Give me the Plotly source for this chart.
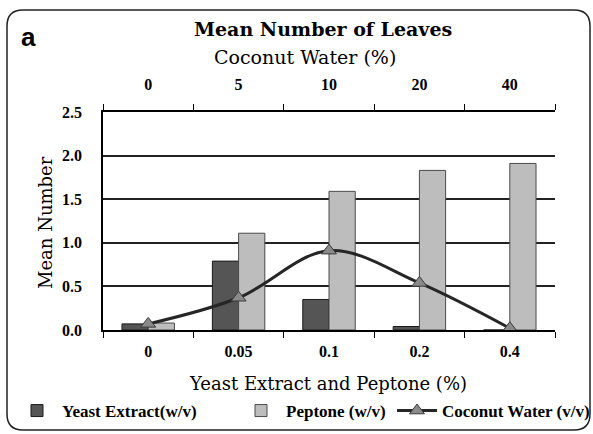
import plotly.graph_objects as go

categories = ["0", "0.05", "0.1", "0.2", "0.4"]
coconut_labels = ["0", "5", "10", "20", "40"]
yeast_extract = [0.07, 0.79, 0.35, 0.04, 0.0]
peptone = [0.08, 1.11, 1.59, 1.83, 1.91]
coconut_water = [0.07, 0.37, 0.91, 0.54, 0.02]
y_ticks = [0, 0.5, 1.0, 1.5, 2.0, 2.5]

SERIF = "Liberation Serif, Times New Roman, serif"
WIDE = "DejaVu Serif, serif"

fig = go.Figure()
fig.add_trace(go.Bar(
    x=categories, y=yeast_extract, name="<b>Yeast Extract(w/v)</b>", legend="legend",
    marker=dict(color="#555555", line=dict(color="#1a1a1a", width=1)),
))
fig.add_trace(go.Bar(
    x=categories, y=peptone, name="<b>Peptone (w/v)</b>", legend="legend2",
    marker=dict(color="#bdbdbd", line=dict(color="#4a4a4a", width=1)),
))
fig.add_trace(go.Scatter(
    x=coconut_labels, y=coconut_water, name="<b>Coconut Water (v/v)</b>", legend="legend3",
    xaxis="x2", mode="lines+markers",
    line=dict(color="#262626", width=3, shape="spline", smoothing=1.0),
    marker=dict(symbol="triangle-up", size=13, color="#8a8a8a",
                line=dict(color="#3a3a3a", width=1)),
))

# rounded border around the whole chart (paper coords)
L, R, T, B = 103, 38, 112, 104
W, H = 593, 434
pw, ph = W - L - R, H - T - B
def px(x): return (x - L) / pw
def py(y): return (H - B - y) / ph
r = 16
x0, x1, y0, y1 = 7, 590, 10, 430
path = (f"M {px(x0+r)},{py(y0)} L {px(x1-r)},{py(y0)} "
        f"Q {px(x1)},{py(y0)} {px(x1)},{py(y0+r)} "
        f"L {px(x1)},{py(y1-r)} Q {px(x1)},{py(y1)} {px(x1-r)},{py(y1)} "
        f"L {px(x0+r)},{py(y1)} Q {px(x0)},{py(y1)} {px(x0)},{py(y1-r)} "
        f"L {px(x0)},{py(y0+r)} Q {px(x0)},{py(y0)} {px(x0+r)},{py(y0)} Z")

def leg(xpix):
    return dict(orientation="h", xref="container", yref="container",
                x=xpix / W, xanchor="left", y=(H - 411) / H, yanchor="middle",
                font=dict(size=17, family=SERIF), bgcolor="rgba(0,0,0,0)",
                itemwidth=40, borderwidth=0)

fig.update_layout(
    width=W, height=H,
    margin=dict(l=L, r=R, t=T, b=B, autoexpand=False),
    paper_bgcolor="white", plot_bgcolor="white",
    barmode="group", bargap=0.42, bargroupgap=0.0,
    font=dict(family=SERIF, color="black"),
    showlegend=True,
    xaxis=dict(
        type="category", categoryorder="array", categoryarray=categories,
        range=[-0.5, 4.5], tickson="boundaries", ticks="outside", ticklen=6,
        tickcolor="black", showline=True, linecolor="black", linewidth=1.5,
        tickfont=dict(size=16, family=SERIF), ticklabelstandoff=6,
        tickprefix="<b>", ticksuffix="</b>", automargin=False,
        showgrid=False,
    ),
    xaxis2=dict(
        type="category", categoryorder="array", categoryarray=coconut_labels,
        range=[-0.5, 4.5], overlaying="x", side="top",
        tickson="boundaries", ticks="outside", ticklen=6, tickcolor="black",
        showline=True, linecolor="black", linewidth=1.5,
        tickfont=dict(size=16, family=SERIF), ticklabelstandoff=14,
        tickprefix="<b>", ticksuffix="</b>", automargin=False,
        showgrid=False,
    ),
    yaxis=dict(
        range=[0, 2.5], tickvals=y_ticks, ticktext=[f"<b>{v:.1f}</b>" for v in y_ticks],
        showgrid=True, gridcolor="#222222", gridwidth=1.5,
        showline=True, linecolor="black", linewidth=1.5,
        ticks="", ticklabelstandoff=16, automargin=False,
        tickfont=dict(size=16, family=SERIF),
        zeroline=False,
    ),
    legend=leg(12),
    legend2=leg(236),
    legend3=leg(392),
    shapes=[dict(type="path", xref="paper", yref="paper", path=path,
                 line=dict(color="#222222", width=1.5), layer="above")],
    annotations=[
        dict(text="<b>a</b>", xref="paper", yref="paper", x=px(19), y=py(37),
             xanchor="left", yanchor="middle", showarrow=False,
             font=dict(size=26, family="Liberation Sans, Arial")),
        dict(text="<b>Mean Number of Leaves</b>", xref="paper", yref="paper",
             x=px(323), y=py(29), xanchor="center", yanchor="middle", showarrow=False,
             font=dict(size=19, family=WIDE)),
        dict(text="Coconut Water (%)", xref="paper", yref="paper",
             x=px(305), y=py(57), xanchor="center", yanchor="middle", showarrow=False,
             font=dict(size=19, family=WIDE)),
        dict(text="Yeast Extract and Peptone (%)", xref="paper", yref="paper",
             x=px(328), y=py(383), xanchor="center", yanchor="middle", showarrow=False,
             font=dict(size=18, family=WIDE)),
        dict(text="Mean Number", xref="paper", yref="paper", textangle=-90,
             x=px(45), y=py(223), xanchor="center", yanchor="middle", showarrow=False,
             font=dict(size=18, family=WIDE)),
    ],
)

fig.write_html("out.html", config={"displayModeBar": False},
               post_script="document.body.style.margin='0';document.body.style.overflow='hidden';")
